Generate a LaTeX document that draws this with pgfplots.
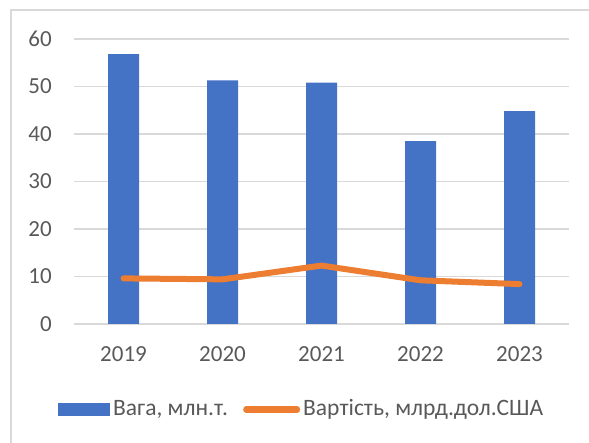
\documentclass[border=0pt]{standalone}
\usepackage{pgfplots}
\pgfplotsset{compat=1.18}
\usepackage{fontspec}
\setmainfont{Carlito}
\definecolor{barblue}{HTML}{4472C4}
\definecolor{lineorange}{HTML}{ED7D31}
\definecolor{gridgray}{HTML}{D9D9D9}
\definecolor{txtgray}{HTML}{595959}
\begin{document}
\fontsize{23bp}{27bp}\selectfont
\begin{tikzpicture}
\useasboundingbox (0,0) rectangle (589bp,443bp);
\draw[gridgray, line width=1.3bp] (11bp,-5bp) -- (11bp,433bp) -- (600bp,433bp);
\begin{axis}[
  at={(74bp,119bp)}, anchor=south west,
  scale only axis, width=495bp, height=285bp,
  xmin=-0.5, xmax=4.5, ymin=0, ymax=60,
  xtick={0,1,2,3,4}, xticklabels={2019,2020,2021,2022,2023},
  ytick={0,10,20,30,40,50,60},
  axis line style={draw=none},
  major tick length=0pt,
  ymajorgrids, grid style={gridgray, line width=1.3bp},
  /pgf/number format/assume math mode=true,
  ticklabel style={font=\fontsize{23bp}{27bp}\selectfont, text=txtgray},
  yticklabel style={inner sep=0pt, anchor=east, xshift=-22bp},
  xticklabel style={inner sep=0pt, anchor=north, yshift=-22bp},
  legend columns=2,
  legend style={draw=none, fill=none, at={(-0.0323,-0.300)}, anchor=west,
    inner sep=0pt, font=\fontsize{23.5bp}{27bp}\selectfont, text=txtgray,
    nodes={inner sep=3bp},
    /tikz/every even column/.append style={column sep=12bp}},
]
\addplot[ybar, bar width=31bp, bar shift=0pt, fill=barblue, draw=none,
  legend image code/.code={\fill[barblue] (0bp,-6.5bp) rectangle (52bp,6.5bp);}]
  coordinates {(0,56.8) (1,51.3) (2,50.8) (3,38.5) (4,44.8)};
\addlegendentry{Вага, млн.т.}
\addplot[lineorange, line width=6bp, line cap=round, line join=round, mark=none,
  legend image code/.code={\draw[lineorange, line width=6bp, line cap=round] (3bp,0bp) -- (54bp,0bp);}]
  coordinates {(0,9.6) (1,9.4) (2,12.3) (3,9.2) (4,8.4)};
\addlegendentry{Вартість, млрд.дол.США}
\end{axis}
\end{tikzpicture}
\end{document}
